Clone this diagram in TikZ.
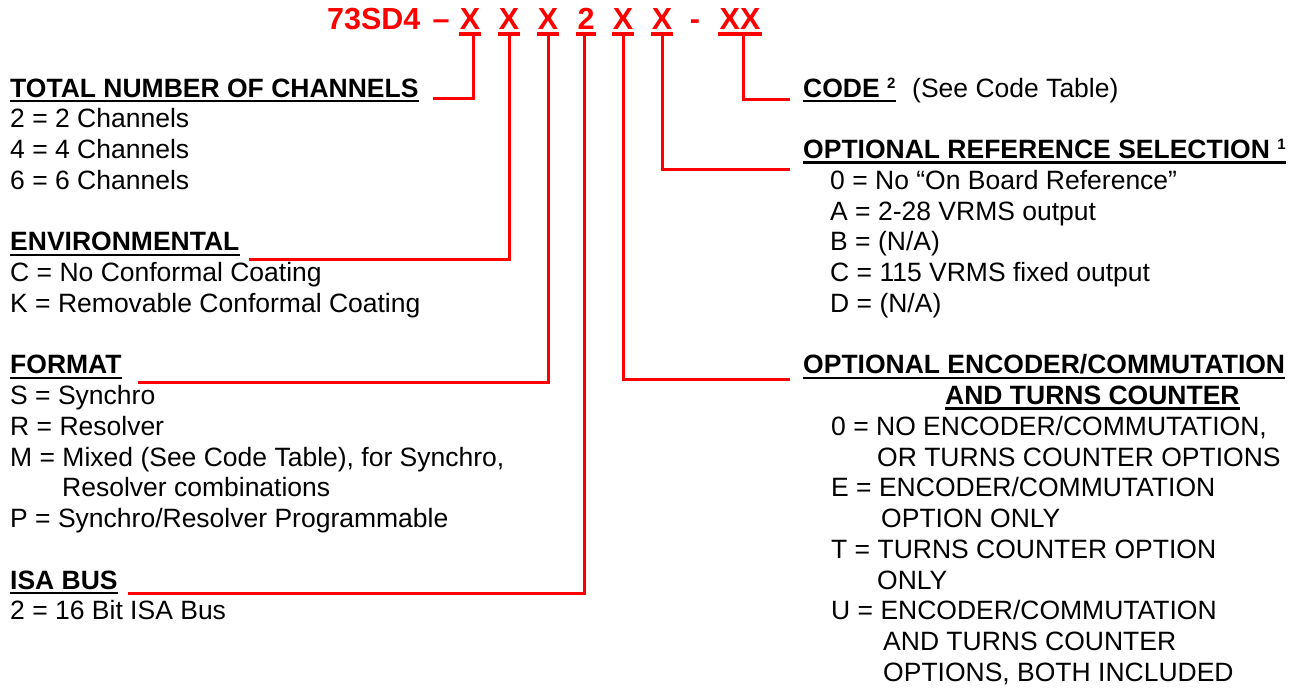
\documentclass[tikz,border=0pt]{standalone}
\usepackage{fontspec}
\setmainfont{Liberation Sans}
\newcommand\supx[1]{\raisebox{9pt}{\fontsize{15}{15}\selectfont\bfseries #1}}
\begin{document}
\begin{tikzpicture}[x=1pt,y=-1pt,
  txt/.style={anchor=base west, inner sep=0pt, font=\fontsize{26.5}{30}\selectfont},
  hd/.style={anchor=base west, inner sep=0pt, font=\fontsize{26.5}{30}\selectfont\bfseries},
  codechar/.style={anchor=base, inner sep=0pt, text=red, font=\fontsize{30.5}{32}\selectfont\bfseries},
  conn/.style={draw=red, line width=3pt},
  ul/.style={draw=black, line width=2.5pt},
  cul/.style={draw=red, line width=3.5pt}]
\useasboundingbox (0,0) rectangle (1305,688);

% ---- part number ----
\node[codechar, anchor=base west] (pn) at (327,29) {73SD4};
\node[codechar] (dash) at (441,29) {–};
\node[codechar] (x1) at (470,29) {X};
\node[codechar] (x2) at (509,29) {X};
\node[codechar] (x3) at (548,29) {X};
\node[codechar] (n2) at (586,29) {2};
\node[codechar] (x4) at (623,29) {X};
\node[codechar] (x5) at (662,29) {X};
\node[codechar] (hy) at (695,29) {-};
\node[codechar] (xx) at (740,29) {XX};
\foreach \n in {x1,x2,x3,n2,x4,x5,xx}
  \draw[cul] ([xshift=-1pt,yshift=-5pt]\n.base west) -- ([xshift=1pt,yshift=-5pt]\n.base east);

% ---- left column ----
\node[hd] (tot) at (10,97) {TOTAL NUMBER OF CHANNELS};
\node[txt] (tot1) at (10,127.75) {2 = 2 Channels};
\node[txt] (tot2) at (10,158.5) {4 = 4 Channels};
\node[txt] (tot3) at (10,189.25) {6 = 6 Channels};

\node[hd] (env) at (10,250.75) {ENVIRONMENTAL};
\node[txt] (env1) at (10,281.5) {C = No Conformal Coating};
\node[txt] (env2) at (10,312.25) {K = Removable Conformal Coating};

\node[hd] (fmt) at (10,373.75) {FORMAT};
\node[txt] (fmt1) at (10,404.5) {S = Synchro};
\node[txt] (fmt2) at (10,435.25) {R = Resolver};
\node[txt] (fmt3) at (10,466) {M = Mixed (See Code Table), for Synchro,};
\node[txt] (fmt3b) at (62,496.75) {Resolver combinations};
\node[txt] (fmt4) at (10,527.5) {P = Synchro/Resolver Programmable};

\node[hd] (isa) at (10,589) {ISA BUS};
\node[txt] (isa1) at (10,619.75) {2 = 16 Bit ISA Bus};

% ---- right column ----
\node[hd] (code) at (803,97) {CODE \supx{2}};
\node[txt] (codet) at (912,97) {(See Code Table)};

\node[hd] (ref) at (803,158.5) {OPTIONAL REFERENCE SELECTION \supx{1}};
\node[txt] (ref1) at (830,189.25) {0 = No “On Board Reference”};
\node[txt] (ref2) at (830,220) {A = 2-28 VRMS output};
\node[txt] (ref3) at (830,250.75) {B = (N/A)};
\node[txt] (ref4) at (830,281.5) {C = 115 VRMS fixed output};
\node[txt] (ref5) at (830,312.25) {D = (N/A)};

\node[hd] (enc) at (803,373.75) {OPTIONAL ENCODER/COMMUTATION};
\node[hd] (encb) at (945,404.5) {AND TURNS COUNTER};
\node[txt] (enc1) at (831,435.25) {0 = NO ENCODER/COMMUTATION,};
\node[txt] (enc1b) at (877,466) {OR TURNS COUNTER OPTIONS};
\node[txt] (enc2) at (831,496.75) {E = ENCODER/COMMUTATION};
\node[txt] (enc2b) at (881,527.5) {OPTION ONLY};
\node[txt] (enc3) at (831,558.25) {T = TURNS COUNTER OPTION};
\node[txt] (enc3b) at (877,589) {ONLY};
\node[txt] (enc4) at (831,619.75) {U = ENCODER/COMMUTATION};
\node[txt] (enc4b) at (883,650.5) {AND TURNS COUNTER};
\node[txt] (enc4c) at (883,681.25) {OPTIONS, BOTH INCLUDED};

% header underlines
\foreach \n in {tot,env,fmt,isa,code,ref,enc,encb}
  \draw[ul] ([yshift=-4pt]\n.base west) -- ([yshift=-4pt]\n.base east);

% ---- connector end points ----
\coordinate (a1) at (433,98);   \coordinate (b1) at (473,34);
\coordinate (a2) at (249,259);  \coordinate (b2) at (509,34);
\coordinate (a3) at (138,382);  \coordinate (b3) at (548,34);
\coordinate (a4) at (128,593);  \coordinate (b4) at (584,34);
\coordinate (a5) at (790,379);  \coordinate (b5) at (623,34);
\coordinate (a6) at (790,169);  \coordinate (b6) at (662,34);
\coordinate (a7) at (790,99);   \coordinate (b7) at (743,34);

\foreach \i in {1,...,7}
  \draw[conn] (a\i) -| (b\i);
\end{tikzpicture}
\end{document}
